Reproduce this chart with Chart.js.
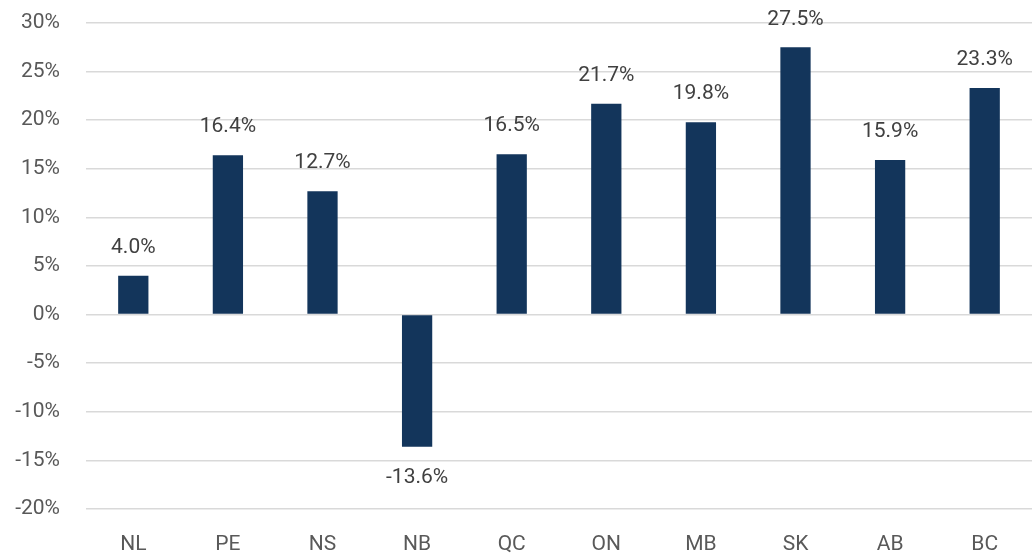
<!DOCTYPE html>
<html>
<head>
<meta charset="utf-8">
<script src="https://cdn.jsdelivr.net/npm/chart.js@4/dist/chart.umd.min.js"></script>
<style>
    html, body { margin: 0; padding: 0; background: #ffffff; }
    #wrap { width: 1032px; height: 555px; position: relative; }
</style>
</head>
<body>
<div id="wrap"><canvas id="barChart"></canvas></div>
<script>
/* ============================================
   DATA
============================================ */
const provinces = ['NL', 'PE', 'NS', 'NB', 'QC', 'ON', 'MB', 'SK', 'AB', 'BC'];
const growth = [4.0, 16.4, 12.7, -13.6, 16.5, 21.7, 19.8, 27.5, 15.9, 23.3];
const yTicks = [-20, -15, -10, -5, 0, 5, 10, 15, 20, 25, 30];

const BAR = '#13355b';
const TEXT = '#404040';

/* ============================================
   VALUE LABELS
============================================ */
const valueLabels = {
    id: 'valueLabels',
    afterDatasetsDraw(chart) {
        const ctx = chart.ctx;
        const meta = chart.getDatasetMeta(0);
        ctx.save();
        ctx.font = "21px Roboto, sans-serif";
        ctx.fillStyle = TEXT;
        ctx.textAlign = 'center';
        ctx.textBaseline = 'middle';
        meta.data.forEach((bar, i) => {
            const v = growth[i];
            const y = v >= 0 ? bar.y - 28 : bar.y + 31;
            ctx.fillText(v.toFixed(1) + '%', bar.x, y);
        });
        ctx.restore();
    }
};

/* ============================================
   CHART
============================================ */
function initChart() {
    const canvas = document.getElementById('barChart');

    new Chart(canvas.getContext('2d'), {
        type: 'bar',
        data: {
            labels: provinces,
            datasets: [{
                data: growth,
                backgroundColor: BAR,
                borderWidth: 0,
                categoryPercentage: 1,
                barPercentage: 0.32
            }]
        },
        options: {
            responsive: true,
            maintainAspectRatio: false,
            animation: false,
            layout: { padding: { top: 23, right: 0, left: 0, bottom: 0 } },
            plugins: {
                legend: { display: false },
                tooltip: { enabled: false }
            },
            scales: {
                x: {
                    grid: { display: false },
                    border: { display: false },
                    ticks: {
                        color: '#595959',
                        font: { family: 'Roboto, sans-serif', size: 21 },
                        padding: 15
                    },
                    afterFit: s => {
                        s.height = 46;
                        s.paddingLeft = 0;
                        s.paddingRight = 0;
                    }
                },
                y: {
                    min: -20,
                    max: 30,
                    afterBuildTicks: s => { s.ticks = yTicks.map(v => ({ value: v })); },
                    grid: { color: '#d9d9d9', lineWidth: 1.5, drawTicks: false },
                    border: { display: false },
                    ticks: {
                        color: '#595959',
                        font: { family: 'Roboto, sans-serif', size: 21 },
                        padding: 26,
                        callback: v => v + '%'
                    },
                    afterFit: s => {
                        s.width = 86;
                        s.paddingTop = 0;
                        s.paddingBottom = 0;
                    }
                }
            }
        },
        plugins: [valueLabels]
    });
}

document.addEventListener('DOMContentLoaded', initChart);
</script>
</body>
</html>
